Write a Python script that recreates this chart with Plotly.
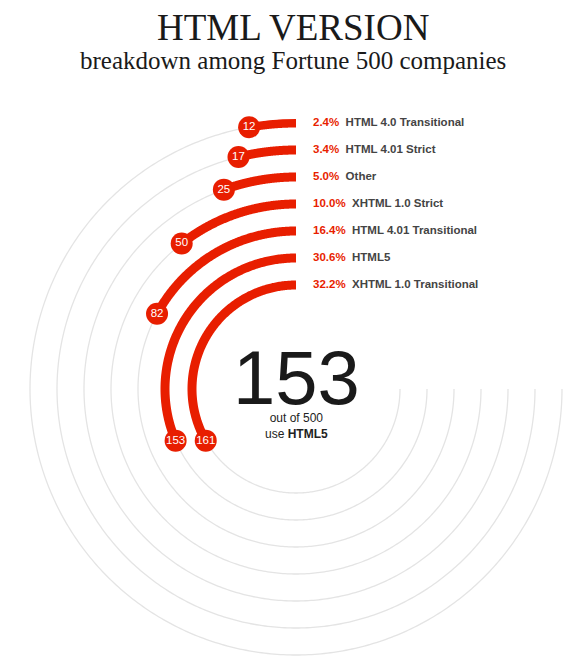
import numpy as np
import plotly.graph_objects as go

# Data (outer ring first, as listed in the legend)
names = ['HTML 4.0 Transitional', 'HTML 4.01 Strict', 'Other', 'XHTML 1.0 Strict',
         'HTML 4.01 Transitional', 'HTML5', 'XHTML 1.0 Transitional']
counts = [12, 17, 25, 50, 82, 153, 161]
total = 500
highlight = 'HTML5'

RED = '#e81e00'
GRAY = '#e4e4e4'
W, H = 586, 667
CX, CY = 296, 389          # centre of the rings in pixels
RMAX = 270                  # radial range (1 unit = 1 px)
r_inner, r_step = 104, 27

n = len(counts)
radii = [r_inner + r_step * (n - 1 - i) for i in range(n)]
dom_x = [(CX - RMAX) / W, (CX + RMAX) / W]
dom_y = [(H - CY - RMAX) / H, (H - CY + RMAX) / H]

fig = go.Figure()

# grey tracks (3/4 circle)
for r in radii:
    th = np.linspace(0, 270, 400)
    fig.add_trace(go.Scatterpolar(r=[r] * len(th), theta=th, mode='lines',
                                  line=dict(color=GRAY, width=1.3), hoverinfo='skip'))

# red arcs + value bubbles
for r, c, name in zip(radii, counts, names):
    end = c / total * 360 + np.degrees(7 / r)
    th = np.linspace(0, end, 200)
    fig.add_trace(go.Scatterpolar(r=[r] * len(th), theta=th, mode='lines',
                                  line=dict(color=RED, width=9), hoverinfo='skip'))
    fig.add_trace(go.Scatterpolar(r=[r], theta=[end], mode='markers+text',
                                  marker=dict(color=RED, size=22),
                                  text=[str(c)], textposition='middle center',
                                  textfont=dict(family='Liberation Sans', size=11.5, color='white'),
                                  hovertext=name, hoverinfo='text'))

# legend labels beside the start of each arc
labels = ["<span style='color:%s'><b>%.1f%%</b></span>  <b>%s</b>" % (RED, c / total * 100, nm)
          for c, nm in zip(counts, names)]
fig.add_trace(go.Scatter(x=[17] * n, y=radii, mode='text', text=labels,
                         textposition='middle right', cliponaxis=False,
                         textfont=dict(family='Liberation Sans', size=11.5, color='#444444'),
                         hoverinfo='skip', xaxis='x', yaxis='y'))

# big number in the middle
hl = counts[names.index(highlight)]
fig.add_annotation(x=0, y=-33, xref='x', yref='y', text=str(hl), showarrow=False,
                   yanchor='bottom', font=dict(family='Liberation Sans', size=76, color='#1a1a1a'))
fig.add_annotation(x=0, y=-37, xref='x', yref='y', showarrow=False,
                   text='out of %d<br>use <b>%s</b>' % (total, highlight),
                   font=dict(family='Liberation Sans', size=12, color='#222222'))

fig.update_layout(
    width=W, height=H,
    margin=dict(l=0, r=0, t=0, b=0),
    paper_bgcolor='white', plot_bgcolor='rgba(0,0,0,0)',
    showlegend=False,
    polar=dict(domain=dict(x=dom_x, y=dom_y), bgcolor='rgba(0,0,0,0)',
               radialaxis=dict(range=[0, RMAX], visible=False),
               angularaxis=dict(rotation=90, direction='counterclockwise', visible=False)),
    xaxis=dict(domain=dom_x, range=[-RMAX, RMAX], visible=False, fixedrange=True),
    yaxis=dict(domain=dom_y, range=[-RMAX, RMAX], visible=False, fixedrange=True),
)
fig.add_annotation(text='HTML VERSION', x=0.5, y=1 - 27 / H, xref='paper', yref='paper',
                   yanchor='middle', showarrow=False,
                   font=dict(family='Liberation Serif', size=37, color='#1a1a1a'))
fig.add_annotation(text='breakdown among Fortune 500 companies', x=0.5, y=1 - 60 / H,
                   xref='paper', yref='paper', yanchor='middle', showarrow=False,
                   font=dict(family='Liberation Serif', size=25, color='#1a1a1a'))

fig.write_html('out.html', config={'displayModeBar': False},
               post_script="document.body.style.margin='0';")
